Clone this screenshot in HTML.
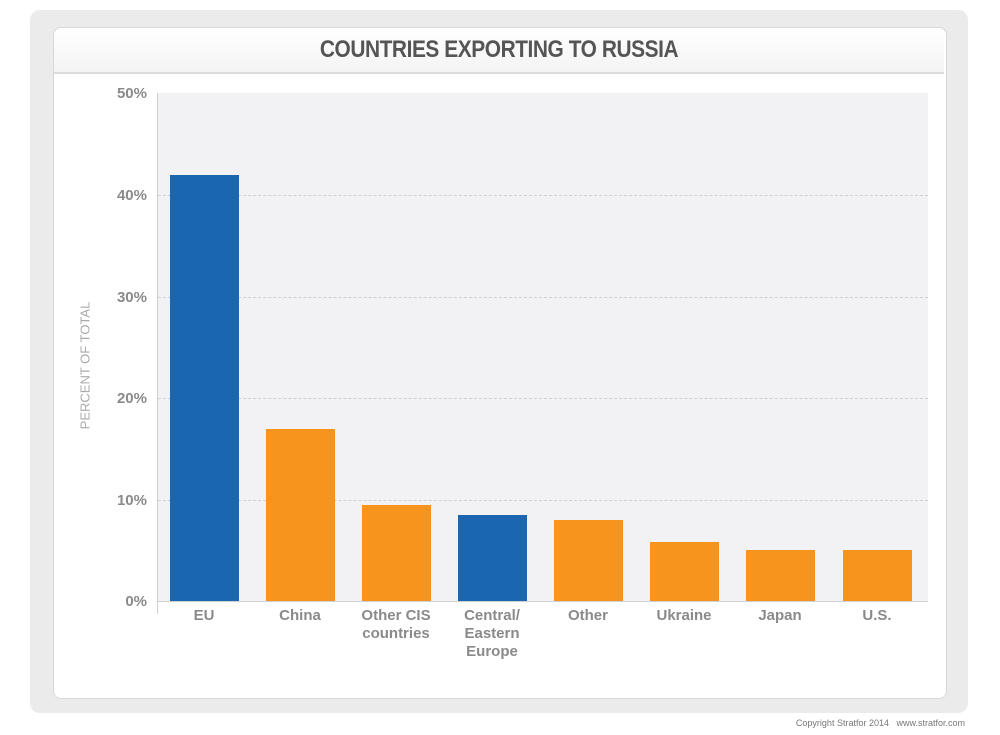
<!DOCTYPE html>
<html><head><style>
body{margin:0;width:1000px;height:735px;background:#fff;position:relative;font-family:"Liberation Sans",sans-serif;overflow:hidden}
.a{position:absolute}
.xl{position:absolute;width:110px;text-align:center;color:#8a8a8a;font-weight:bold;font-size:15px;line-height:18px;top:607px}
.yl{position:absolute;left:95px;width:52px;text-align:right;color:#8a8a8a;font-weight:bold;font-size:15px}
.g{position:absolute;left:158px;width:770px;border-top:1px dashed #cfcfd4}
.b{position:absolute;width:69px;bottom:134px}
</style></head><body>
<div class="a" style="left:30px;top:10px;width:938px;height:703px;background:#ebebeb;border-radius:10px"></div>
<div class="a" style="left:53px;top:27px;width:892px;height:670px;background:#fff;border:1px solid #d8d8d8;border-radius:8px"></div>
<div class="a" style="left:54px;top:28px;width:890px;height:44px;background:linear-gradient(#fff,#f4f4f4);border-bottom:2px solid #dcdcdc;border-radius:8px 8px 0 0"></div>
<div class="a" style="left:54px;top:28px;width:890px;height:44px;text-align:center;line-height:44px;font-size:24px;font-weight:bold;color:#555;letter-spacing:-0.5px;transform:scaleX(0.87)">COUNTRIES EXPORTING TO RUSSIA</div>
<div class="a" style="left:158px;top:93px;width:770px;height:508px;background:#f2f2f4"></div>
<div class="g" style="top:195px"></div><div class="g" style="top:297px"></div><div class="g" style="top:398px"></div><div class="g" style="top:500px"></div>
<div class="a" style="left:157px;top:93px;width:1px;height:521px;background:#d0d0d0"></div>
<div class="a" style="left:157px;top:601px;width:771px;height:1px;background:#d0d0d0"></div>
<div class="yl" style="top:85px">50%</div><div class="yl" style="top:187px">40%</div><div class="yl" style="top:289px">30%</div><div class="yl" style="top:390px">20%</div><div class="yl" style="top:492px">10%</div><div class="yl" style="top:593px">0%</div>
<div class="a" style="left:-5px;top:358px;width:180px;text-align:center;transform:rotate(-90deg);color:#aaa;font-size:13px">PERCENT OF TOTAL</div>
<div class="b" style="left:170px;top:175px;background:#1a67b0"></div>
<div class="b" style="left:266px;top:429px;background:#f7941e"></div>
<div class="b" style="left:362px;top:505px;background:#f7941e"></div>
<div class="b" style="left:458px;top:515px;background:#1a67b0"></div>
<div class="b" style="left:554px;top:520px;background:#f7941e"></div>
<div class="b" style="left:650px;top:542px;background:#f7941e"></div>
<div class="b" style="left:746px;top:550px;background:#f7941e"></div>
<div class="b" style="left:843px;top:550px;background:#f7941e"></div>
<div class="xl" style="left:149px">EU</div>
<div class="xl" style="left:245px">China</div>
<div class="xl" style="left:341px">Other CIS<br>countries</div>
<div class="xl" style="left:437px">Central/<br>Eastern<br>Europe</div>
<div class="xl" style="left:533px">Other</div>
<div class="xl" style="left:629px">Ukraine</div>
<div class="xl" style="left:725px">Japan</div>
<div class="xl" style="left:822px">U.S.</div>
<div class="a" style="right:35px;top:718px;font-size:9px;color:#777">Copyright Stratfor 2014 &nbsp;&nbsp;www.stratfor.com</div>
</body></html>
